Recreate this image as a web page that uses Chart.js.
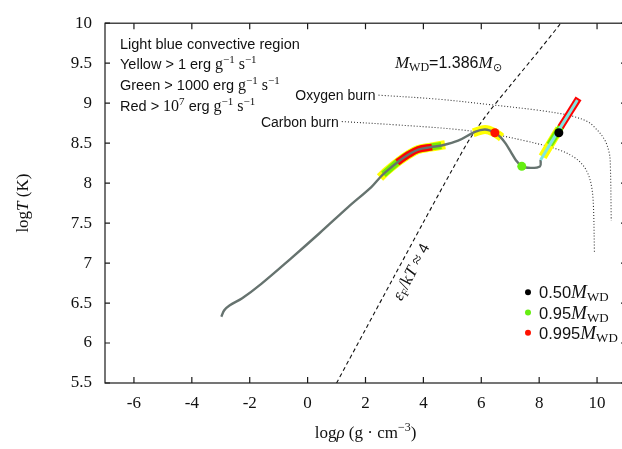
<!DOCTYPE html>
<html>
<head>
<meta charset="utf-8">
<script src="https://cdn.jsdelivr.net/npm/chart.js@4.4.1/dist/chart.umd.min.js"></script>
<style>
html, body { margin: 0; padding: 0; background: #fff; overflow: hidden; }
#wrap { width: 640px; height: 449px; }
</style>
</head>
<body>
<div id="wrap"><canvas id="rhoT"></canvas></div>
<script>
// points are [log rho, log T]
const trackPts = [[-2.98,6.33],[-2.88,6.41],[-2.70,6.47],[-2.26,6.56],[-1.60,6.74],[-0.60,7.05],[0.40,7.37],[1.40,7.70],[2.20,7.95],[2.50,8.07],[2.70,8.14],[3.14,8.27],[3.50,8.36],[3.82,8.42],[4.25,8.45],[4.62,8.47],[5.20,8.53],[5.78,8.64],[6.13,8.67],[6.47,8.63],[6.68,8.57],[6.85,8.49],[7.02,8.39],[7.19,8.29],[7.40,8.21],[7.71,8.19],[8.03,8.21],[8.05,8.29]];
const convectPts = [[8.05,8.29],[8.40,8.50],[8.74,8.70],[9.05,8.88],[9.32,9.04]];

// burning rate bands
const yellowA = [[2.50,8.07],[2.70,8.14],[3.14,8.27],[3.50,8.36],[3.82,8.42],[4.25,8.45],[4.75,8.48]];
const greenA = [[2.62,8.11],[3.14,8.27],[3.50,8.36],[3.82,8.42],[4.25,8.45],[4.62,8.47]];
const redA = [[3.10,8.26],[3.50,8.36],[3.82,8.42],[4.30,8.45]];
const yellowB = [[5.72,8.63],[6.13,8.67],[6.47,8.63],[6.70,8.57]];
const yellowC = [[8.12,8.33],[8.40,8.50],[8.70,8.68]];
const greenC = [[8.36,8.48],[8.55,8.59],[8.76,8.71]];
const redC = [[8.74,8.70],[9.05,8.88],[9.36,9.06]];

// mass-coordinate markers
const legendMasses = ['0.50', '0.95', '0.995'];
const markerColors = ['#000000', '#66ee11', '#ff1100'];
const markerPts = [[8.68,8.63],[7.40,8.21],[6.47,8.63]];

// eps_F/kT ~ 4 and ignition curves
const degenPts = [[1.0,5.5],[2.0,6.17],[3.0,6.84],[4.0,7.51],[5.0,8.17],[5.6,8.55],[6.2,8.86],[7.0,9.22],[8.0,9.66],[8.75,10.0]];
const oxygenPts = [[2.45,9.10],[4.5,9.05],[6.33,8.98],[8.0,8.91],[8.88,8.86],[9.22,8.83],[9.67,8.77],[9.91,8.70],[10.25,8.55],[10.42,8.38],[10.46,8.22],[10.49,7.53]];
const carbonPts = [[1.18,8.77],[3.0,8.73],[5.2,8.67],[6.57,8.60],[7.5,8.53],[8.29,8.46],[8.8,8.40],[9.22,8.32],[9.5,8.23],[9.67,8.13],[9.80,7.98],[9.87,7.75],[9.91,7.13]];

// axis ticks
const xTicks = [-6, -4, -2, 0, 2, 4, 6, 8, 10];
const yTicks = [5.5, 6, 6.5, 7, 7.5, 8, 8.5, 9, 9.5, 10];
const yTickLabels = ['5.5', '6', '6.5', '7', '7.5', '8', '8.5', '9', '9.5', '10'];

const SANS = "'Liberation Sans', sans-serif";
const SERIF = "'Liberation Serif', serif";

function xy(arr) { return arr.map(p => ({x: p[0], y: p[1]})); }

function line(pts, color, width, order, extra) {
    return Object.assign({
        data: xy(pts),
        showLine: true,
        borderColor: color,
        borderWidth: width,
        pointRadius: 0,
        tension: 0.35,
        fill: false,
        order: order,
    }, extra || {});
}

// draws a row of text pieces [text, font, dy]
function drawRuns(ctx, x, y, parts, align) {
    let w = 0;
    parts.forEach(p => { ctx.font = p[1]; w += ctx.measureText(p[0]).width; });
    let cx = align === 'right' ? x - w : (align === 'center' ? x - w / 2 : x);
    parts.forEach(p => {
        ctx.font = p[1];
        ctx.fillText(p[0], cx, y + (p[2] || 0));
        cx += ctx.measureText(p[0]).width;
    });
}

const gs = [' g', '16px ' + SERIF];
const sup = ['\u22121', '11px ' + SERIF, -6];
const ss = [' s', '16px ' + SERIF];

const decorations = {
    id: 'decorations',
    afterDraw(chart) {
        const ctx = chart.ctx;
        const a = chart.chartArea;
        const x = chart.scales.x;
        const y = chart.scales.y;
        ctx.save();

        // frame with inward ticks on all four sides
        ctx.strokeStyle = '#1a1a1a';
        ctx.lineWidth = 1.2;
        ctx.strokeRect(a.left, a.top, a.right - a.left, a.bottom - a.top);
        ctx.beginPath();
        x.ticks.forEach(t => {
            const px = x.getPixelForValue(t.value);
            ctx.moveTo(px, a.bottom); ctx.lineTo(px, a.bottom - 6);
            ctx.moveTo(px, a.top); ctx.lineTo(px, a.top + 6);
        });
        y.ticks.forEach(t => {
            const py = y.getPixelForValue(t.value);
            ctx.moveTo(a.left, py); ctx.lineTo(a.left + 5, py);
            ctx.moveTo(a.right, py); ctx.lineTo(a.right - 5, py);
        });
        ctx.stroke();

        ctx.fillStyle = '#111';
        ctx.textBaseline = 'alphabetic';

        // key, top left
        const s14 = '14.5px ' + SANS;
        const lx = a.left + 15;
        drawRuns(ctx, lx, a.top + 26, [['Light blue convective region', s14]]);
        drawRuns(ctx, lx, a.top + 46, [['Yellow > 1 erg', s14], gs, sup, ss, sup]);
        drawRuns(ctx, lx, a.top + 67, [['Green > 1000 erg', s14], gs, sup, ss, sup]);
        drawRuns(ctx, lx, a.top + 88, [['Red > ', s14], ['10', '16px ' + SERIF], ['7', '11px ' + SERIF, -6], [' erg', s14], gs, sup, ss, sup]);

        // curve labels anchored at the start of each curve
        drawRuns(ctx, x.getPixelForValue(oxygenPts[0][0]) - 3, y.getPixelForValue(oxygenPts[0][1]) + 5, [['Oxygen burn', '14px ' + SANS]], 'right');
        drawRuns(ctx, x.getPixelForValue(carbonPts[0][0]) - 3, y.getPixelForValue(carbonPts[0][1]) + 5, [['Carbon burn', '14px ' + SANS]], 'right');

        // white dwarf mass
        drawRuns(ctx, x.getPixelForValue(4.86), y.getPixelForValue(9.44), [
            ['M', 'italic 17px ' + SERIF], ['WD', '12px ' + SERIF, 3], ['=1.386', '16px ' + SANS],
            ['M', 'italic 17px ' + SERIF], ['\u2299', '11px ' + SERIF, 3]], 'center');

        // degeneracy label along the dashed line
        ctx.save();
        ctx.translate(x.getPixelForValue(3.58), y.getPixelForValue(6.89));
        ctx.rotate(-62.7 * Math.PI / 180);
        drawRuns(ctx, 0, 5, [['\u03b5', 'italic 17px ' + SERIF], ['F', '11px ' + SERIF, 3], ['/k', '17px ' + SERIF],
            ['T', 'italic 17px ' + SERIF], [' \u2248 ', '17px ' + SERIF], ['4', '15px ' + SANS]], 'center');
        ctx.restore();

        // mass markers key, bottom right
        legendMasses.forEach((m, i) => {
            const cy = a.top + 269 + i * 20.3;
            ctx.fillStyle = markerColors[i];
            ctx.beginPath();
            ctx.arc(a.left + 423, cy, 3, 0, Math.PI * 2);
            ctx.fill();
            ctx.fillStyle = '#111';
            drawRuns(ctx, a.left + 434, cy + 6, [[m, '16.5px ' + SANS], ['M', 'italic 19px ' + SERIF], ['WD', '13px ' + SERIF, 3]]);
        });

        // axis titles
        drawRuns(ctx, (a.left + a.right) / 2, 438, [['log', '17px ' + SERIF], ['\u03c1', 'italic 17px ' + SERIF],
            [' (g \u00b7 cm', '17px ' + SERIF], ['\u22123', '12px ' + SERIF, -7], [')', '17px ' + SERIF]], 'center');
        ctx.save();
        ctx.translate(28, (a.top + a.bottom) / 2);
        ctx.rotate(-Math.PI / 2);
        drawRuns(ctx, 0, 0, [['log', '17px ' + SERIF], ['T', 'italic 17px ' + SERIF], [' (K)', '17px ' + SERIF]], 'center');
        ctx.restore();

        ctx.restore();
    }
};

const datasets = [
    {
        data: xy(markerPts),
        showLine: false,
        pointRadius: 4.5,
        pointBackgroundColor: markerColors,
        pointBorderWidth: 0,
        order: 1,
    },
    line(convectPts, '#7fe6e0', 3, 2, {tension: 0}),
    line(trackPts, '#66736f', 2.4, 3),
    line(redA, '#ff0000', 7, 4),
    line(redC, '#ff0000', 7, 4, {tension: 0}),
    line(greenA, '#77ee00', 7, 5),
    line(greenC, '#77ee00', 7, 5, {tension: 0}),
    line(yellowA, '#ffff00', 9, 6),
    line(yellowB, '#ffff00', 9, 6),
    line(yellowC, '#ffff00', 9, 6, {tension: 0}),
    line(degenPts, '#111111', 1.1, 7, {borderDash: [4, 3], tension: 0.3}),
    line(oxygenPts, '#333333', 1.1, 8, {borderDash: [1, 2]}),
    line(carbonPts, '#333333', 1.1, 8, {borderDash: [1, 2]}),
];

new Chart(document.getElementById('rhoT'), {
    type: 'scatter',
    data: { datasets: datasets },
    options: {
        responsive: true,
        maintainAspectRatio: false,
        animation: false,
        layout: { padding: { top: 13, right: 14, left: 0, bottom: 0 } },
        plugins: {
            legend: { display: false },
            tooltip: { enabled: false },
        },
        scales: {
            x: {
                type: 'linear',
                min: -7,
                max: 11,
                afterBuildTicks: s => { s.ticks = xTicks.map(v => ({value: v})); },
                afterFit: s => { s.height = 66; },
                grid: { display: false, drawTicks: false },
                border: { display: false },
                ticks: {
                    autoSkip: false,
                    maxRotation: 0,
                    padding: 10,
                    color: '#111',
                    font: { family: 'Liberation Serif', size: 17 },
                    callback: v => String(v),
                },
            },
            y: {
                type: 'linear',
                min: 5.5,
                max: 10,
                afterBuildTicks: s => { s.ticks = yTicks.map(v => ({value: v})); },
                afterFit: s => { s.width = 105; },
                grid: { display: false, drawTicks: false },
                border: { display: false },
                ticks: {
                    padding: 13,
                    color: '#111',
                    font: { family: 'Liberation Serif', size: 17 },
                    callback: (v, i) => yTickLabels[i],
                },
            },
        },
    },
    plugins: [decorations],
});
</script>
</body>
</html>
